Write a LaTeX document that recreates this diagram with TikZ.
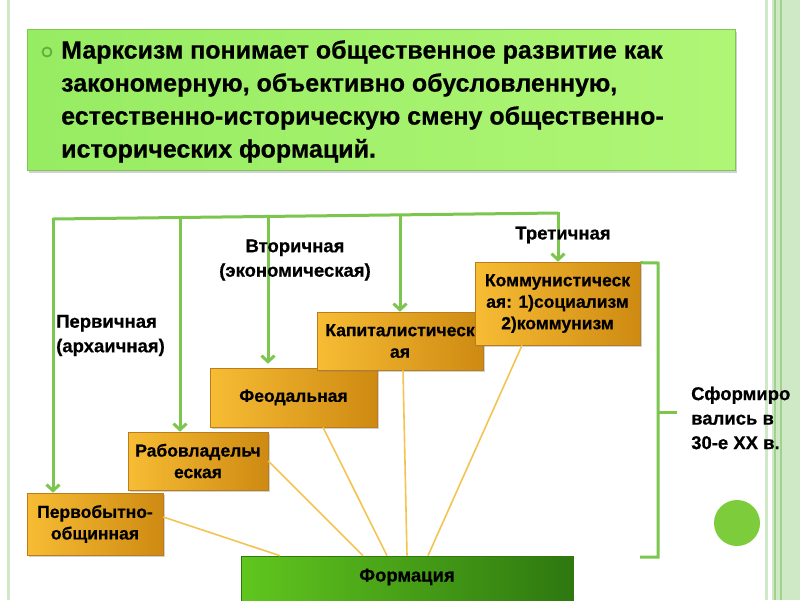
\documentclass[tikz,border=0pt]{standalone}
\usepackage{fontspec}
\setmainfont{Liberation Sans}
\newfontfamily\heavy[FakeBold=0.6]{Liberation Sans Bold}
\usetikzlibrary{arrows.meta,shadows,calc}
\definecolor{gline}{RGB}{124,198,79}
\definecolor{yline}{RGB}{243,196,81}
\definecolor{orA}{RGB}{247,188,52}
\definecolor{orB}{RGB}{206,138,18}
\definecolor{orD}{RGB}{185,125,30}
\definecolor{tgA}{RGB}{150,236,98}
\definecolor{tgB}{RGB}{176,246,118}
\definecolor{tgD}{RGB}{128,196,90}
\definecolor{fgA}{RGB}{96,198,30}
\definecolor{fgB}{RGB}{46,120,16}
\definecolor{strip}{RGB}{207,233,198}
\definecolor{stripD}{RGB}{160,210,142}
\definecolor{dotc}{RGB}{124,204,60}
\tikzset{
  obox/.style={rectangle, inner sep=0pt, left color=orA, right color=orB, draw=orD, line width=0.6pt,
    drop shadow={opacity=0.35, shadow xshift=2pt, shadow yshift=-2pt}},
  btxt/.style={font=\heavy\fontsize{17.5}{21.5}\selectfont, align=center, inner sep=0pt, text=black},
  ltxt/.style={font=\heavy\fontsize{18.5}{24.5}\selectfont, inner sep=0pt, text=black},
  gl/.style={draw=gline, line width=3pt},
  garr/.style={gl, -{Straight Barb[length=6pt,width=13pt,line width=3pt]}},
  yl/.style={draw=yline, line width=1.6pt},
}
\begin{document}
\begin{tikzpicture}[x=1pt,y=-1pt]
\useasboundingbox (0,0) rectangle (800,600);
\fill[white] (0,0) rectangle (800,600);
% page decorations
\fill[strip] (6.5,0) rectangle (9.5,600);
\fill[strip] (765,0) rectangle (768,600);
\fill[strip] (772,0) rectangle (800,600);
\draw[stripD, line width=1.2pt] (775,0) -- (775,600);
\draw[stripD, line width=1.2pt] (781,0) -- (781,600);
% top box
\node[rectangle, inner sep=0pt, left color=tgA, right color=tgB, draw=tgD, line width=0.6pt,
  minimum width=708pt, minimum height=141pt,
  drop shadow={opacity=0.35, shadow xshift=2pt, shadow yshift=-3pt}] (top) at (381,99.5) {};
\node[circle, draw={rgb,255:red,100;green,175;blue,60}, line width=1.8pt, inner sep=0pt, minimum size=9pt] (bul) at (47,52) {};
\node[anchor=north west, inner sep=0pt, align=left, font=\heavy\fontsize{25}{33}\selectfont] (toptxt) at (61,40)
 {Марксизм понимает общественное развитие как\\
  закономерную, объективно обусловленную,\\
  естественно-историческую смену общественно-\\
  исторических формаций.};
% formation boxes
\node[obox, minimum width=136pt, minimum height=62pt] (perv) at (95,524) {};
\node[btxt] (pervt) at (perv) {Первобытно-\\общинная};
\node[obox, minimum width=140pt, minimum height=58pt] (rab) at (198,461) {};
\node[btxt] (rabt) at (rab) {Рабовладельч\\еская};
\node[obox, minimum width=167pt, minimum height=59pt] (feod) at (293.5,397.5) {};
\node[btxt] (feodt) at (feod) {Феодальная};
\node[obox, minimum width=166pt, minimum height=58pt] (kap) at (400,341) {};
\node[btxt] (kapt) at (400,341) {Капиталистическ\\ая};
\node[obox, minimum width=165pt, minimum height=83pt] (komm) at (557.5,303.5) {};
\node[btxt] (kommt) at (komm) {Коммунистическ\\ая: 1)социализм\\2)коммунизм};
\node[rectangle, inner sep=0pt, left color=fgA, right color=fgB, draw=fgB, line width=0.6pt,
  minimum width=332pt, minimum height=46pt] (form) at (407,579) {};
\node[btxt, font=\heavy\fontsize{18.5}{21.5}\selectfont] (formt) at (407,577) {Формация};
% yellow lines
\draw[yl] ([yshift=7pt]perv.east) -- ([xshift=-127pt]form.north);
\draw[yl] (rab.east) -- ([xshift=-44pt]form.north);
\draw[yl] ([xshift=29.5pt]feod.south) -- ([xshift=-20pt]form.north);
\draw[yl] ([xshift=3pt]kap.south) -- (form.north);
\draw[yl] ([xshift=-35.5pt]komm.south) -- ([xshift=21pt]form.north);
% green bus and arrows
\coordinate (b1) at (53,219);
\coordinate (b2) at (180,217.5);
\coordinate (b3) at (268,216.4);
\coordinate (b4) at (400,214.9);
\coordinate (b5) at (558,213);
\draw[gl, line join=miter] (b5) -- (b1);
\draw[garr] ([yshift=1.5pt]b1) -- (b1 |- perv.north);
\draw[garr] (b2) -- (b2 |- rab.north);
\draw[garr] (b3) -- ([yshift=4pt]b3 |- feod.north);
\draw[garr] (b4) -- (b4 |- kap.north);
\draw[garr] ([yshift=1.5pt]b5) -- (b5 |- komm.north);
% bracket
\coordinate (k1) at (komm.north east);
\coordinate (k2) at (658,263);
\coordinate (k3) at (658,557);
\coordinate (k4) at (640,557);
\coordinate (k5) at (658,412);
\coordinate (k6) at (677,412);
\draw[gl, line join=miter] ([yshift=-1pt]k1) -- (k2) -- (k3) -- (k4);
\draw[gl] (k5) -- (k6);
% labels
\node[ltxt, anchor=west, align=left] (lab1) at (56,335.5) {Первичная\\(архаичная)};
\node[ltxt, align=center] (lab2) at (295,260) {Вторичная\\(экономическая)};
\node[ltxt] (lab3) at (563,235) {Третичная};
\node[ltxt, anchor=west, align=left] (lab4) at (691,418) {Сформиро\\вались в\\30-е XX в.};
% dot
\node[circle, fill=dotc, inner sep=0pt, minimum size=46pt] (dot) at (737,523) {};
\end{tikzpicture}
\end{document}
